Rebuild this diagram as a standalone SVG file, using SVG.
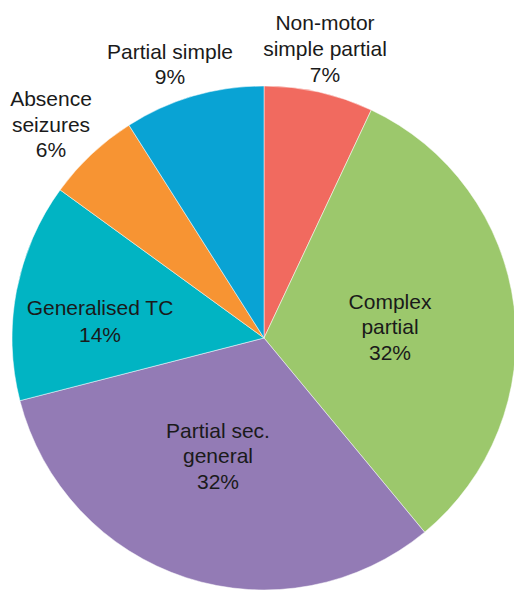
<svg xmlns="http://www.w3.org/2000/svg" width="514" height="590" viewBox="0 0 514 590">
<style>
.s{stroke:#ffffff;stroke-width:0.5}
text{font-family:"Liberation Sans",Arial,sans-serif;font-size:21px;fill:#1a1a1a;text-anchor:middle}
</style>
<rect width="514" height="590" fill="#ffffff"/>
<g id="slices">
<g id="nonmotor"><path class="s" fill="#F16A5F" d="M264,338 L264,86 A252,252 0 0 1 371.30,109.98 Z"/></g>
<g id="complex"><path class="s" fill="#9CC86C" d="M264,338 L371.30,109.98 A252,252 0 0 1 424.63,532.17 Z"/></g>
<g id="partialsec"><path class="s" fill="#937BB5" d="M264,338 L424.63,532.17 A252,252 0 0 1 19.92,400.67 Z"/></g>
<g id="generalised"><path class="s" fill="#01B4C3" d="M264,338 L19.92,400.67 A252,252 0 0 1 60.13,189.88 Z"/></g>
<g id="absence"><path class="s" fill="#F79433" d="M264,338 L60.13,189.88 A252,252 0 0 1 128.97,125.23 Z"/></g>
<g id="partialsimple"><path class="s" fill="#09A3D4" d="M264,338 L128.97,125.23 A252,252 0 0 1 264,86 Z"/></g>
</g>
<g id="labels">
<text x="325" y="30">Non-motor</text>
<text x="325" y="56">simple partial</text>
<text x="325" y="82">7%</text>
<text x="170" y="59">Partial simple</text>
<text x="170" y="84">9%</text>
<text x="51" y="106">Absence</text>
<text x="51" y="132">seizures</text>
<text x="51" y="157">6%</text>
<text x="100" y="315">Generalised TC</text>
<text x="100" y="342">14%</text>
<text x="390" y="309">Complex</text>
<text x="390" y="334">partial</text>
<text x="390" y="360">32%</text>
<text x="218" y="438">Partial sec.</text>
<text x="218" y="463">general</text>
<text x="218" y="489">32%</text>
</g>
</svg>
